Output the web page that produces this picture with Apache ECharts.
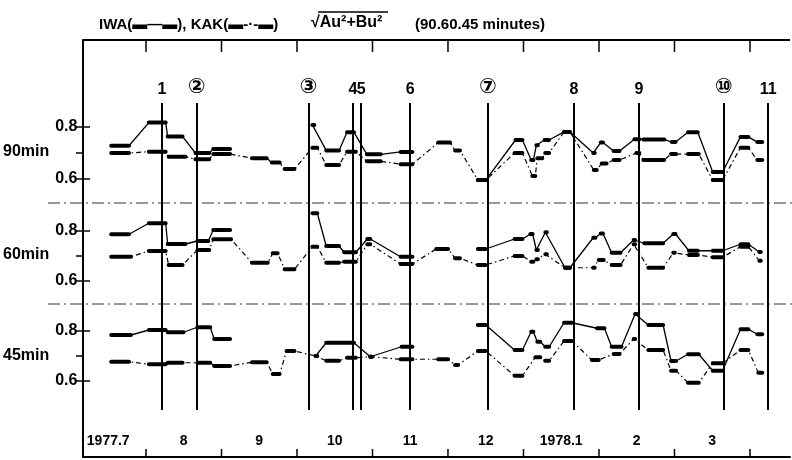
<!DOCTYPE html>
<html><head><meta charset="utf-8">
<script src="https://cdn.jsdelivr.net/npm/echarts@6/dist/echarts.min.js"></script>
<style>html,body{margin:0;padding:0;background:#fff}#c{width:792px;height:460px}</style>
</head><body><div id="c"></div>
<script>
// x values are in months since 1977-07-01 (1 = Aug 1, 6 = 1978 Jan 1 ...)
const monthLabels = ['1977.7','8','9','10','11','12','1978.1','2','3'];
const monthLabelPos = [0.5,1.5,2.5,3.5,4.5,5.5,6.5,7.5,8.5];
const monthBounds = [1,2,3,4,5,6,7,8,9];
const eventNames = ['1','②','③','4','5','6','⑦','8','9','⑩','11'];
const eventPos = [1.208,1.671,3.150,3.742,3.845,4.497,5.530,6.673,7.530,8.646,9.243];
const yMajorTicks = [0.6,0.8];
const yMinorTicks = [0.7];
const yLabelVals = [0.6,0.8];
const panelNames = ['90min','60min','45min'];

// segments: [x start, x end, value]; null = gap
const iwa90 = [
 [0.457,0.695,0.728],[0.960,1.185,0.817],[1.212,1.411,0.763],[1.583,1.768,0.700],[1.821,2.046,0.715],
 null,
 [3.146,3.172,0.808],[3.331,3.503,0.710],[3.609,3.702,0.780],[3.874,4.060,0.695],[4.325,4.483,0.704],
 null,
 [5.358,5.464,0.596],[5.861,5.954,0.750],[6.070,6.100,0.673],[6.140,6.160,0.730],[6.250,6.310,0.750],
 [6.510,6.589,0.781],[6.900,6.920,0.700],[7.000,7.030,0.740],[7.172,7.252,0.708],[7.450,7.517,0.753],
 [7.570,7.850,0.752],[7.950,8.000,0.742],[8.166,8.298,0.780],[8.497,8.629,0.627],[8.868,8.974,0.762],
 [9.093,9.159,0.742]
];
const kak90 = [
 [0.457,0.695,0.700],[0.960,1.185,0.705],[1.225,1.450,0.686],[1.583,1.768,0.676],[1.821,2.046,0.696],
 [2.338,2.536,0.680],[2.603,2.709,0.663],[2.775,2.907,0.638],[3.146,3.212,0.720],[3.331,3.503,0.654],
 [3.609,3.728,0.705],[3.874,4.060,0.668],[4.325,4.483,0.657],[4.828,4.987,0.740],[5.053,5.119,0.710],
 [5.358,5.464,0.596],[5.848,5.954,0.700],[6.086,6.126,0.612],[6.152,6.219,0.680],[6.258,6.311,0.700],
 [6.510,6.589,0.781],[6.907,6.947,0.635],[7.013,7.079,0.660],[7.172,7.252,0.673],[7.477,7.517,0.700],
 [7.570,7.848,0.673],[7.940,8.007,0.696],[8.166,8.311,0.696],[8.497,8.629,0.596],[8.868,8.974,0.720],
 [9.093,9.159,0.673]
];
const iwa60 = [
 [0.457,0.695,0.787],[0.960,1.185,0.831],[1.212,1.450,0.748],[1.609,1.755,0.760],[1.821,2.046,0.804],
 null,
 [3.146,3.212,0.871],[3.331,3.503,0.740],[3.570,3.728,0.715],[3.880,3.920,0.768],[4.325,4.483,0.697],
 null,
 [5.358,5.464,0.728],[5.848,5.954,0.768],[6.060,6.090,0.788],[6.140,6.160,0.724],[6.260,6.280,0.795],
 [6.523,6.589,0.653],[6.900,6.930,0.773],[7.000,7.030,0.790],[7.146,7.265,0.713],[7.440,7.460,0.764],
 [7.583,7.834,0.751],[7.970,8.000,0.788],[8.179,8.298,0.721],[8.497,8.629,0.721],[8.868,8.974,0.747],
 [9.120,9.140,0.716]
];
const kak60 = [
 [0.457,0.722,0.697],[0.960,1.185,0.720],[1.225,1.411,0.664],[1.609,1.768,0.724],[1.821,2.060,0.767],
 [2.338,2.550,0.673],[2.616,2.682,0.711],[2.775,2.907,0.647],[3.146,3.212,0.737],[3.331,3.503,0.673],
 [3.570,3.728,0.677],[3.880,3.920,0.747],[4.325,4.483,0.668],[4.801,4.960,0.728],[5.053,5.119,0.691],
 [5.358,5.464,0.664],[5.848,5.954,0.700],[6.070,6.100,0.677],[6.140,6.160,0.687],[6.260,6.280,0.707],
 [6.523,6.589,0.653],[6.900,6.920,0.653],[6.974,7.040,0.684],[7.146,7.265,0.664],[7.440,7.460,0.747],
 [7.636,7.834,0.653],[7.970,7.990,0.713],[8.179,8.298,0.704],[8.497,8.629,0.695],[8.868,8.974,0.737],
 [9.120,9.140,0.681]
];
const iwa45 = [
 [0.457,0.722,0.784],[0.960,1.185,0.804],[1.212,1.424,0.795],[1.609,1.781,0.815],[1.834,2.046,0.768],
 null,
 [3.190,3.210,0.700],[3.331,3.702,0.753],[3.920,3.940,0.697],[4.338,4.483,0.737],
 null,
 [5.358,5.464,0.824],[5.848,5.954,0.724],[6.070,6.100,0.797],[6.152,6.192,0.757],[6.258,6.311,0.737],
 [6.510,6.616,0.833],[6.950,7.050,0.811],[7.146,7.278,0.737],[7.460,7.480,0.868],[7.636,7.834,0.824],
 [7.940,8.007,0.680],[8.166,8.311,0.707],[8.497,8.629,0.641],[8.868,8.974,0.807],[9.093,9.159,0.787]
];
const kak45 = [
 [0.457,0.695,0.677],[0.960,1.185,0.667],[1.212,1.411,0.673],[1.609,1.781,0.673],[1.834,2.046,0.660],
 [2.338,2.536,0.675],[2.616,2.709,0.628],[2.801,2.907,0.720],[3.190,3.210,0.700],[3.331,3.503,0.681],
 [3.609,3.728,0.693],[3.920,3.940,0.697],[4.325,4.483,0.687],[4.828,4.960,0.687],[5.053,5.093,0.664],
 [5.358,5.464,0.720],[5.848,5.954,0.621],[6.126,6.192,0.695],[6.258,6.311,0.681],[6.510,6.616,0.760],
 [6.881,6.974,0.684],[7.172,7.252,0.708],[7.440,7.460,0.768],[7.636,7.834,0.724],[7.940,8.007,0.641],
 [8.166,8.311,0.593],[8.497,8.629,0.671],[8.868,8.974,0.724],[9.106,9.159,0.633]
];

const panels = [
  {iwa: iwa90, kak: kak90, min: 0.5077, max: 0.9},
  {iwa: iwa60, kak: kak60, min: 0.508, max: 0.9},
  {iwa: iwa45, kak: kak45, min: 0.5, max: 0.9}
];
const gridBoxes = [{top:101,height:102},{top:206,height:98},{top:306,height:100}];
const dividerTops = [202, 303];
const XMIN = 0.1656, XMAX = 9.53;
const FONT = 'Liberation Sans';
const FRAME_TOP = 40, FRAME_BOTTOM = 457;

function thinLine(segs){
  const out=[];
  segs.forEach(s=>{ if(!s){ out.push([out.length?out[out.length-1][0]+0.01:0,'-']); } else { out.push([s[0],s[2]],[s[1],s[2]]); } });
  return out;
}
function flats(segs){
  const out=[];
  segs.forEach(s=>{ if(s){ out.push([s[0],s[2]],[s[1],s[2]],[s[1]+0.001,'-']); } });
  return out;
}

const grid=[], xAxis=[], yAxis=[], series=[];
const txt = {color:'#000', fontFamily:FONT, fontWeight:'bold'};
function addGrid(g, xa, ya){
  const gi = grid.length; grid.push(g);
  const xi = xAxis.length; xAxis.push(Object.assign({type:'value',gridIndex:gi},xa));
  const yi = yAxis.length; yAxis.push(Object.assign({type:'value',gridIndex:gi},ya));
  return {gi,xi,yi};
}

const panelAxes = [];
panels.forEach((p,i)=>{
  const ax = addGrid({left:83,right:2,top:gridBoxes[i].top,height:gridBoxes[i].height},
    {min:XMIN,max:XMAX,position:'bottom',
     axisLine:{show:false,onZero:false},
     axisTick:{show:false},axisLabel:{show:false},splitLine:{show:false}},
    {min:p.min,max:p.max,position:'left',
     axisLine:{show:false,onZero:false},axisTick:{show:false},
     axisLabel:Object.assign({customValues:yLabelVals,formatter:v=>v.toFixed(1),margin:12,fontSize:16},txt),
     splitLine:{show:false},
     name:panelNames[i],nameLocation:'middle',nameRotate:0,nameGap:27,
     nameTextStyle:Object.assign({fontSize:16,align:'right'},txt)});
  panelAxes.push(ax);
  series.push({type:'line',xAxisIndex:ax.xi,yAxisIndex:ax.yi,data:thinLine(p.kak),showSymbol:false,connectNulls:false,
    lineStyle:{color:'#000',width:1.2,type:[5,3,1.5,3]},z:2,silent:true});
  series.push({type:'line',xAxisIndex:ax.xi,yAxisIndex:ax.yi,data:thinLine(p.iwa),showSymbol:false,connectNulls:false,
    lineStyle:{color:'#000',width:1.3,type:'solid'},z:3,silent:true});
  series.push({type:'line',xAxisIndex:ax.xi,yAxisIndex:ax.yi,data:flats(p.kak),showSymbol:false,connectNulls:false,
    lineStyle:{color:'#000',width:4,cap:'round'},z:4,silent:true});
  series.push({type:'line',xAxisIndex:ax.xi,yAxisIndex:ax.yi,data:flats(p.iwa),showSymbol:false,connectNulls:false,
    lineStyle:{color:'#000',width:4,cap:'round'},z:4,silent:true});
});

// dash-dot dividers between panels
dividerTops.forEach(t=>{
  const d = addGrid({left:48,right:0,top:t,height:2},{min:0,max:1,show:false},{min:0,max:1,show:false});
  series.push({type:'line',xAxisIndex:d.xi,yAxisIndex:d.yi,data:[[0,0.5],[1,0.5]],showSymbol:false,silent:true,
    lineStyle:{width:1,color:'#333',type:[12,4,2,4]}});
});

// overlay grid for event lines
const ov = addGrid({left:83,right:2,top:103,bottom:50},{min:XMIN,max:XMAX,show:false},{min:0,max:1,show:false});
const circled = /[①-⑳]/;
series.push({type:'line',xAxisIndex:ov.xi,yAxisIndex:ov.yi,data:[],silent:true,
  markLine:{symbol:'none',silent:true,animation:false,
    lineStyle:{color:'#000',width:2,type:'solid'},
    label:Object.assign({show:true,position:'end',fontSize:16,distance:5,
      formatter:p=>circled.test(p.name)?'{c|'+p.name+'}':p.name,
      rich:{c:{fontSize:21,fontFamily:'DejaVu Sans',fontWeight:'bold',color:'#000'}}},txt),
    emphasis:{disabled:true},
    data:eventPos.map((x,i)=>({xAxis:x,name:eventNames[i]}))}});

// frame grid: bottom month labels and left border
const fr = addGrid({left:83,right:2,top:FRAME_TOP,bottom:460-FRAME_BOTTOM},
  {min:XMIN,max:XMAX,position:'bottom',
   axisLine:{show:true,onZero:false,lineStyle:{color:'#000',width:2}},
   axisTick:{show:false},
   axisLabel:Object.assign({show:true,inside:true,margin:9,fontSize:14,customValues:monthLabelPos,
     formatter:v=>monthLabels[Math.floor(v)]},txt),
   splitLine:{show:false}},
  {min:0,max:1,position:'left',
   axisLine:{show:true,onZero:false,lineStyle:{color:'#000',width:2}},
   axisTick:{show:false},axisLabel:{show:false},splitLine:{show:false}});

const overline = {id:'sqrtbar',type:'line',shape:{x1:318,y1:12,x2:388,y2:12},style:{stroke:'#000',lineWidth:1.5}};
const option = {
  animation:false,
  backgroundColor:'#fff',
  title:[
    {text:'IWA(▬—▬), KAK(▬-·-▬)',left:94,top:12,textStyle:Object.assign({fontSize:15},txt)},
    {text:'√Au²+Bu²',left:306,top:10,textStyle:Object.assign({fontSize:16},txt)},
    {text:'(90.60.45 minutes)',left:410,top:12,textStyle:Object.assign({fontSize:15},txt)}
  ],
  graphic:[overline],
  grid, xAxis, yAxis, series
};
const chart = echarts.init(document.getElementById('c'),null,{renderer:'canvas'});
chart.setOption(option);

// Frame borders and ticks, positioned through the chart's own axis scales
const seg = (id,x1,y1,x2,y2,w)=>({id,type:'line',z:100,silent:true,
  shape:{x1,y1,x2,y2},style:{stroke:'#000',lineWidth:w||1.5}});
const fx = v => chart.convertToPixel({xAxisIndex: ov.xi}, v);
const gfx = [overline];
const xl = fx(XMIN), xr = fx(XMAX);
gfx.push(seg('topBorder', xl, FRAME_TOP, xr, FRAME_TOP, 2));
gfx.push(seg('botBorder', xl, FRAME_BOTTOM, xr, FRAME_BOTTOM, 2));
monthBounds.forEach((v,k)=>{
  const x = fx(v);
  gfx.push(seg('tt'+k, x, FRAME_TOP, x, FRAME_TOP+12, 1.5));
  gfx.push(seg('bt'+k, x, FRAME_BOTTOM-8, x, FRAME_BOTTOM, 1.5));
});
panelAxes.forEach((ax,i)=>{
  const fy = v => chart.convertToPixel({yAxisIndex: ax.yi}, v);
  yMajorTicks.forEach((v,k)=>{ const y=fy(v); gfx.push(seg('ym'+i+'_'+k, xl-8, y, xl+7, y, 1.5)); });
  yMinorTicks.forEach((v,k)=>{ const y=fy(v); gfx.push(seg('yn'+i+'_'+k, xl-7, y, xl, y, 1.5)); });
});
chart.setOption({graphic: gfx});
</script></body></html>
